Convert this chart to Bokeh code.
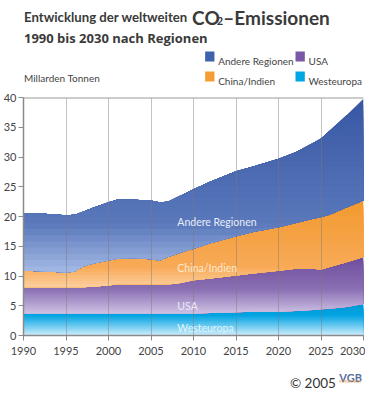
import numpy as np
from bokeh.plotting import figure
from bokeh.layouts import column
from bokeh.models import Label, Span, FixedTicker, Range1d
from bokeh.embed import file_html
from bokeh.resources import INLINE

# ---- data (Mrd. t CO2) ----
years = [1990, 1992, 1995, 1996, 1997, 1998, 2000, 2001, 2003, 2005, 2006, 2007,
         2008, 2010, 2012, 2015, 2017, 2020, 2022, 2024, 2025, 2026, 2028, 2030]
westeuropa = [3.7, 3.7, 3.7, 3.7, 3.7, 3.7, 3.7, 3.7, 3.7, 3.7, 3.7, 3.7,
              3.7, 3.7, 3.8, 3.9, 4.0, 4.0, 4.1, 4.3, 4.4, 4.5, 4.8, 5.3]
usa = [4.4, 4.4, 4.4, 4.4, 4.4, 4.5, 4.7, 4.9, 4.9, 4.9, 4.9, 4.9,
       5.0, 5.6, 5.8, 6.2, 6.4, 6.9, 7.1, 6.9, 6.7, 7.0, 7.5, 7.9]
china_indien = [2.8, 2.7, 2.5, 2.6, 3.5, 3.8, 4.2, 4.3, 4.4, 4.2, 4.0, 4.6,
                5.0, 5.3, 5.9, 6.6, 7.0, 7.3, 7.7, 8.4, 8.8, 8.8, 9.2, 9.5]
andere = [9.7, 9.7, 9.6, 9.6, 9.2, 9.4, 9.8, 9.9, 9.8, 9.9, 9.8, 9.3,
          9.5, 10.0, 10.4, 10.9, 11.0, 11.5, 11.9, 12.7, 13.2, 14.1, 15.5, 17.1]
series_names = ["Westeuropa", "USA", "China/Indien", "Andere Regionen"]
legend_colors = ["#00a5e3", "#7a58a6", "#f59d35", "#3f62ad"]
x_ticks = [1990, 1995, 2000, 2005, 2010, 2015, 2020, 2025, 2030]
y_ticks = [0, 5, 10, 15, 20, 25, 30, 35, 40]

FONT = "Lato"
W = 365
TOP_H, MAIN_H, BOT_H = 90, 275, 30


def blank_fig(h):
    f = figure(width=W, height=h, x_range=Range1d(0, W), y_range=Range1d(h, 0),
               output_backend="svg", toolbar_location=None,
               x_axis_type=None, y_axis_type=None,
               min_border_left=0, min_border_right=0, min_border_top=0, min_border_bottom=0)
    f.outline_line_color = None
    f.grid.grid_line_color = None
    f.background_fill_color = "white"
    f.border_fill_color = "white"
    return f


def tlabel(f, x, y, txt, size, color="#3a3a3a", style="normal", font=FONT):
    f.add_layout(Label(x=x, y=y, text=txt, text_font=font, text_font_size=size,
                       text_color=color, text_font_style=style, text_baseline="alphabetic"))


# ---------- header: title, unit, legend ----------
top = blank_fig(TOP_H)
tlabel(top, 0.5, 16, "Entwicklung der weltweiten", "13.2px", "#3a3a3a", "bold")
tlabel(top, 181, 16.5, "CO", "19px", "#3a3a3a", "bold")
tlabel(top, 207.5, 20, "2", "11px", "#3a3a3a", "bold")
tlabel(top, 214.5, 16.5, "–Emissionen", "19px", "#3a3a3a", "bold")
tlabel(top, 0.5, 37, "1990 bis 2030 nach Regionen", "13px", "#3a3a3a", "bold", "Open Sans")
tlabel(top, 0.5, 77, "Millarden Tonnen", "10px", "#444444")

# legend: order as in reference (Andere, USA / China, Westeuropa)
leg_order = [3, 1, 2, 0]
leg_cols = [195, 292]
leg_rows = [51, 71]
for k, idx in enumerate(leg_order):
    lx = leg_cols[k % 2]
    ly = leg_rows[k // 2]
    top.quad(left=[lx], right=[lx + 10], top=[ly], bottom=[ly + 10],
             fill_color=legend_colors[idx], line_color=None)
    tlabel(top, lx + 14, ly + 9, series_names[idx], "10px", "#444444")

# ---------- main chart ----------
p = figure(width=W, height=MAIN_H, x_range=Range1d(1990, 2030), y_range=Range1d(0, 40),
           output_backend="svg", toolbar_location=None,
           min_border_left=20, min_border_right=2, min_border_top=7, min_border_bottom=30)
p.outline_line_color = None
p.background_fill_color = "white"
p.border_fill_color = "white"

# gradient stops per series (t=0 bottom of band's bounding box, t=1 top)
stops = {
    "Westeuropa": [(0.0, "#d6f0fc"), (0.35, "#62c6ef"), (0.65, "#02a4e2"), (1.0, "#0098d8")],
    "USA": [(0.0, "#d0c5e6"), (0.45, "#8a6fb3"), (1.0, "#6f4e9e")],
    "China/Indien": [(0.0, "#fdd3a6"), (0.25, "#f8aa57"), (1.0, "#f29a30")],
    "Andere Regionen": [(0.0, "#a9bee7"), (0.3, "#5a78bb"), (1.0, "#3858a4")],
}


def hex2rgb(h):
    h = h.lstrip("#")
    return np.array([int(h[i:i + 2], 16) for i in (0, 2, 4)], float)


def color_at(st, t):
    for (t0, c0), (t1, c1) in zip(st[:-1], st[1:]):
        if t <= t1:
            f = (t - t0) / (t1 - t0) if t1 > t0 else 0
            c = hex2rgb(c0) * (1 - f) + hex2rgb(c1) * f
            return "#%02x%02x%02x" % tuple(int(round(v)) for v in c)
    return st[-1][1]


x = np.array(years, float)
vals = [np.array(v, float) for v in (westeuropa, usa, china_indien, andere)]
lower = np.zeros_like(x)
N = 28
for name, v in zip(series_names, vals):
    upper = lower + v
    ymin, ymax = lower.min(), upper.max()
    levels = np.linspace(ymax, ymin, N + 1)[:-1]
    for L in levels:
        t = (L - ymin) / (ymax - ymin)
        y2 = np.maximum(lower, np.minimum(upper, L))
        p.varea(x=x, y1=lower, y2=y2, fill_color=color_at(stops[name], t), fill_alpha=1.0)
    lower = upper

for ax in (p.xaxis[0], p.yaxis[0]):
    ax.axis_line_color = "#8a8a8a"
    ax.axis_line_width = 1.5
    ax.major_tick_line_color = "#8a8a8a"
    ax.major_tick_line_width = 1
    ax.major_tick_in = 0
    ax.major_tick_out = 5
    ax.minor_tick_line_color = None
    ax.major_label_text_font = FONT
    ax.major_label_text_font_size = "11px"
    ax.major_label_text_color = "#444444"
p.xaxis[0].ticker = FixedTicker(ticks=x_ticks)
p.yaxis[0].ticker = FixedTicker(ticks=y_ticks)
p.yaxis[0].major_label_standoff = 2
p.xaxis[0].major_label_standoff = 6

p.ygrid.grid_line_color = None
p.xgrid.ticker = FixedTicker(ticks=x_ticks[1:-1])
p.xgrid.grid_line_color = "#7a7a7a"
p.xgrid.grid_line_dash = "1 1"
p.xgrid.grid_line_width = 1
p.xgrid.grid_line_alpha = 0.9
p.xgrid.level = "annotation"

p.add_layout(Span(location=40, dimension="width", line_color="#9a9a9a", line_width=2))

for txt, yy, col in [("Andere Regionen", 19.0, "#e8edf8"), ("China/Indien", 11.4, "#fde9d0"),
                     ("USA", 5.0, "#eee8f5"), ("Westeuropa", 1.2, "#e0f5fd")]:
    p.add_layout(Label(x=2008.1, y=yy, text=txt, text_font=FONT, text_font_size="10.5px",
                       text_color=col, text_baseline="alphabetic"))

# ---------- footer ----------
bot = blank_fig(BOT_H)
tlabel(bot, 286, 17, "© 2005", "13.5px", "#333333")
tlabel(bot, 339, 12, "VGB", "11px", "#5b6f9e", "bold")
tlabel(bot, 339, 16, "POWERTECH", "3.5px", "#e0a050")

layout = column(top, p, bot, spacing=0)
open("out.html", "w").write(file_html(layout, INLINE))
